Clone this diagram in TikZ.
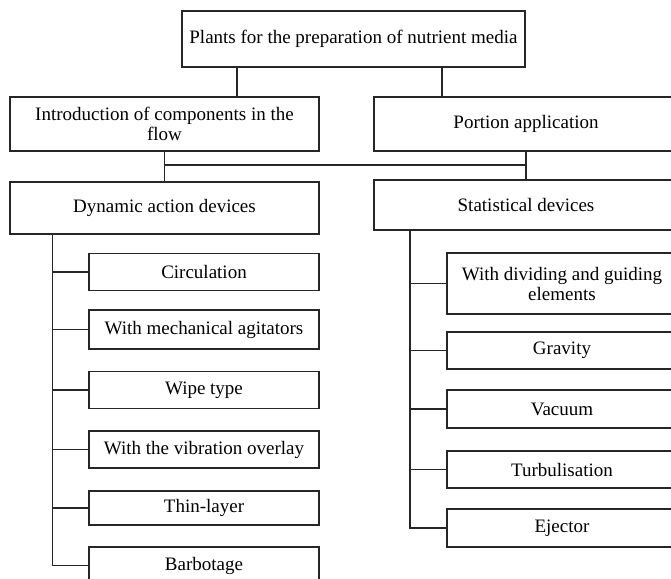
\documentclass[tikz,border=0pt]{standalone}
\usepackage{fontspec}
\setmainfont{Liberation Serif}
\usetikzlibrary{calc}

\tikzset{
  box/.style={draw=black!85, line width=1.3pt, align=center, inner sep=2pt,
    font=\fontsize{19}{20}\selectfont},
  bigbox/.style={box, minimum width=309pt, minimum height=54pt},
  subbox/.style={box, minimum width=230pt, minimum height=37pt},
  link/.style={draw=black!85, line width=1.3pt}
}

\begin{document}
\begin{tikzpicture}[x=1pt, y=-1pt]
\useasboundingbox (0,0) rectangle (671,578);
\clip (0,0) rectangle (671,578);

\node [box, minimum width=343pt, minimum height=56pt] (top) at (353.5,39) {Plants for the preparation of nutrient media};
\node [bigbox] (intro) at (164.5,124) {Introduction of components in the\\flow};
\node [bigbox, minimum width=304pt] (portion) at (526,124) {Portion application};
\node [bigbox, minimum height=52pt] (dyn) at (164.5,208) {Dynamic action devices};
\node [bigbox, minimum width=304pt, minimum height=50pt] (stat) at (526,205) {Statistical devices};

% dynamic branch
\node [subbox] (circ) at (204,272) {Circulation};
\node [subbox, minimum height=39pt] (mech) at (204,329.5) {With mechanical agitators};
\node [subbox] (wipe) at (204,390) {Wipe type};
\node [subbox] (vib) at (204,449.5) {With the vibration overlay};
\node [subbox, minimum height=34pt] (thin) at (204,508) {Thin-layer};
\node [subbox] (barb) at (204,565.5) {Barbotage};

% static branch
\node [subbox, minimum height=61pt] (divg) at (562,283.5) {With dividing and guiding\\elements};
\node [subbox] (grav) at (562,350.5) {Gravity};
\node [subbox, minimum height=38pt] (vac) at (562,409) {Vacuum};
\node [subbox] (turb) at (562,469.5) {Turbulisation};
\node [subbox, minimum height=38pt] (ej) at (562,528) {Ejector};

\coordinate (t1) at ([xshift=-116.5pt]top.south);
\coordinate (t2) at ([xshift=88.5pt]top.south);
\coordinate (dl) at ([xshift=-112pt]dyn.south);
\coordinate (sl) at ([xshift=-116pt]stat.south);

\draw [link]
(t1) -- (t1 |- intro.north)
(t2) -- (t2 |- portion.north)
(intro.south) -- (dyn.north)
(portion.south) -- (stat.north)
($(intro.south)!.45!(dyn.north)$) -| (portion.south)
(dl) |- (barb.west)
(circ.west) -- (circ.west -| dl)
(mech.west) -- (mech.west -| dl)
(wipe.west) -- (wipe.west -| dl)
(vib.west) -- (vib.west -| dl)
(thin.west) -- (thin.west -| dl)
(sl) |- (ej.west)
(divg.west) -- (divg.west -| sl)
(grav.west) -- (grav.west -| sl)
(vac.west) -- (vac.west -| sl)
(turb.west) -- (turb.west -| sl)
;
\end{tikzpicture}
\end{document}
